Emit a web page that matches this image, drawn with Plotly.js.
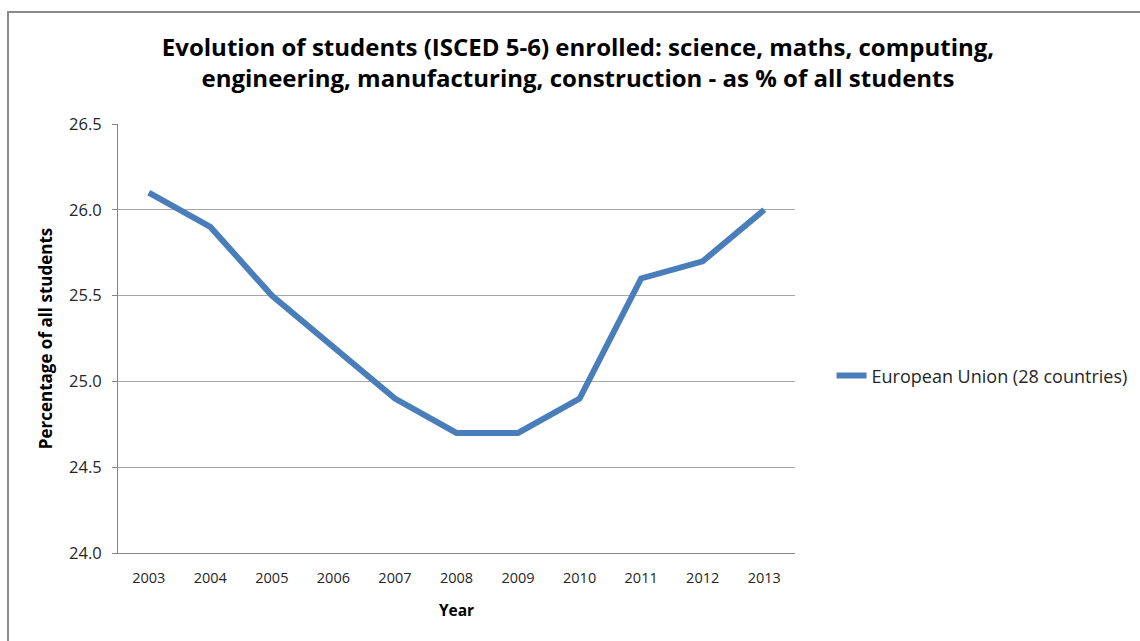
<!DOCTYPE html>
<html>
<head>
<meta charset="utf-8">
<script src="https://cdn.plot.ly/plotly-3.0.1.min.js"></script>
<style>
html, body { margin: 0; padding: 0; background: #fff; overflow: hidden; }
#frame { position: absolute; left: 7px; top: 11px; width: 1200px; height: 700px; border-left: 2px solid #8a8a8a; border-top: 2px solid #8a8a8a; pointer-events: none; z-index: 5; }
#chart { position: absolute; left: 0; top: 0; width: 1140px; height: 641px; }
</style>
</head>
<body>
<div id="chart"></div>
<div id="frame"></div>
<script>
const years = ['2003','2004','2005','2006','2007','2008','2009','2010','2011','2012','2013'];
const euValues = [26.1, 25.9, 25.5, 25.2, 24.9, 24.7, 24.7, 24.9, 25.6, 25.7, 26.0];
const seriesName = 'European Union (28 countries)';
const yTicks = [24.0, 24.5, 25.0, 25.5, 26.0, 26.5];
const yTickLabels = ['24.0', '24.5', '25.0', '25.5', '26.0', '26.5'];

const FONT = '"Open Sans", "Noto Sans", sans-serif';

Plotly.newPlot('chart', [{
  x: years,
  y: euValues,
  type: 'scatter',
  mode: 'lines',
  name: seriesName,
  line: { color: '#4a7ebb', width: 6 },
  showlegend: true
}], {
  width: 1140,
  height: 641,
  paper_bgcolor: '#ffffff',
  plot_bgcolor: '#ffffff',
  margin: { l: 118, r: 345, t: 124, b: 88, autoexpand: false },
  title: {
    text: '<b>Evolution of students (ISCED 5-6) enrolled: science, maths, computing,<br>engineering, manufacturing, construction - as % of all students</b>',
    font: { family: FONT, size: 24, color: '#000000' },
    x: 578 / 1140, xanchor: 'center', xref: 'container',
    y: 1 - 56 / 641, yanchor: 'top', yref: 'container'
  },
  xaxis: {
    type: 'category',
    range: [-0.5, 10.5],
    showgrid: false,
    showline: true,
    linecolor: '#868686',
    linewidth: 1,
    ticks: 'outside',
    ticklen: 12,
    tickcolor: 'rgba(0,0,0,0)',
    tickfont: { family: FONT, size: 14.5, color: '#262626' },
    title: { text: '<b>Year</b>', font: { family: FONT, size: 15.5, color: '#000' }, standoff: 18 },
    fixedrange: true
  },
  yaxis: {
    range: [24.0, 26.5],
    tickvals: yTicks,
    ticktext: yTickLabels,
    showgrid: true,
    gridcolor: '#a6a6a6',
    gridwidth: 1,
    showline: true,
    linecolor: '#868686',
    linewidth: 1,
    ticks: 'outside',
    ticklen: 12,
    tickcolor: 'rgba(0,0,0,0)',
    minor: { tickvals: yTicks, ticks: 'outside', ticklen: 5, tickcolor: '#868686', showgrid: false },
    tickfont: { family: FONT, size: 16.5, color: '#262626' },
    title: { text: '<b>Percentage of all students</b>', font: { family: FONT, size: 17, color: '#000' }, standoff: 12 },
    zeroline: false,
    fixedrange: true
  },
  legend: {
    x: 1.054, xanchor: 'left',
    y: 0.413, yanchor: 'middle',
    font: { family: FONT, size: 18, color: '#262626' },
    bgcolor: 'rgba(0,0,0,0)',
    itemwidth: 30
  },
  showlegend: true
}, { displayModeBar: false, staticPlot: true });
</script>
</body>
</html>
